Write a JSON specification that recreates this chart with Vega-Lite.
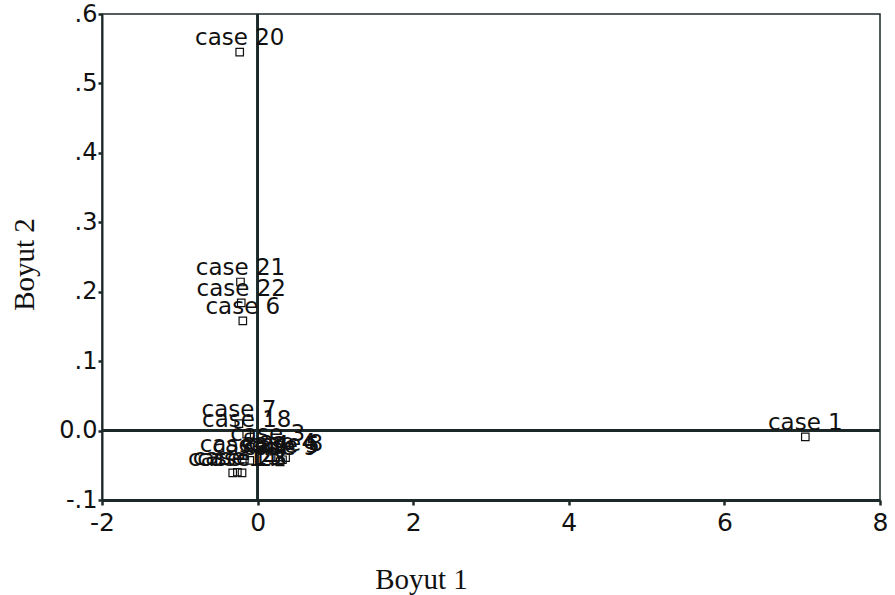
{
  "$schema": "https://vega.github.io/schema/vega-lite/v6.json",
  "width": 778,
  "height": 486,
  "autosize": "none",
  "padding": {"left": 102, "top": 14, "right": 15, "bottom": 95},
  "background": "white",
  "config": {
    "view": {"stroke": "#1c2828", "strokeWidth": 1.5},
    "axis": {"grid": false}
  },
  "data": {
    "values": [
      {"case": "case 1", "b1": 7.04, "b2": -0.009},
      {"case": "case 20", "b1": -0.23, "b2": 0.545},
      {"case": "case 21", "b1": -0.22, "b2": 0.214},
      {"case": "case 22", "b1": -0.21, "b2": 0.184},
      {"case": "case 6", "b1": -0.19, "b2": 0.158},
      {"case": "case 7", "b1": -0.24, "b2": 0.010},
      {"case": "case 18", "b1": -0.14, "b2": -0.005},
      {"case": "case 3", "b1": 0.13, "b2": -0.025},
      {"case": "case 4", "b1": 0.27, "b2": -0.038},
      {"case": "case 5", "b1": 0.32, "b2": -0.042},
      {"case": "case 8", "b1": 0.36, "b2": -0.039},
      {"case": "case 9", "b1": 0.29, "b2": -0.045},
      {"case": "case 24", "b1": -0.17, "b2": -0.041},
      {"case": "case 2", "b1": -0.10, "b2": -0.043},
      {"case": "case 14", "b1": -0.32, "b2": -0.061},
      {"case": "case 15", "b1": -0.26, "b2": -0.060},
      {"case": "case 23", "b1": -0.20, "b2": -0.061}
    ]
  },
  "layer": [
    {
      "mark": {"type": "rule", "color": "#1c2828", "strokeWidth": 1.5},
      "encoding": {"x": {"datum": 0, "type": "quantitative"}}
    },
    {
      "mark": {"type": "rule", "color": "#1c2828", "strokeWidth": 1.5},
      "encoding": {"y": {"datum": 0, "type": "quantitative"}}
    },
    {
      "mark": {"type": "point", "shape": "square", "size": 56, "filled": false, "stroke": "#111", "strokeWidth": 1.2, "opacity": 1},
      "encoding": {
        "x": {
          "field": "b1", "type": "quantitative",
          "scale": {"domain": [-2, 8], "nice": false, "zero": false},
          "axis": {
            "title": "Boyut 1",
            "values": [-2, 0, 2, 4, 6, 8],
            "labelExpr": "'' + datum.value",
            "labelFont": "DejaVu Sans", "labelFontSize": 25, "labelColor": "#111",
            "labelFlush": false, "labelOverlap": false, "labelBound": false, "labelPadding": 5,
            "tickSize": 5, "tickWidth": 2.5, "tickColor": "#1c2828",
            "domainColor": "#1c2828", "domainWidth": 3,
            "titleFont": "Liberation Serif", "titleFontSize": 29, "titleFontWeight": "normal", "titleColor": "#111",
            "titleX": 319, "titleY": 88, "titleBaseline": "alphabetic", "titleAlign": "center"
          }
        },
        "y": {
          "field": "b2", "type": "quantitative",
          "scale": {"domain": [-0.1, 0.6], "nice": false, "zero": false},
          "axis": {
            "title": "Boyut 2",
            "values": [-0.1, 0, 0.1, 0.2, 0.3, 0.4, 0.5, 0.6],
            "labelExpr": "datum.value < -0.05 ? '-.1' : (datum.value < 0.05 ? '0.0' : '.' + round(datum.value * 10))",
            "labelFont": "DejaVu Sans", "labelFontSize": 24, "labelColor": "#111",
            "labelFlush": false, "labelOverlap": false, "labelBound": false, "labelPadding": 1,
            "tickSize": 4, "tickWidth": 2.5, "tickColor": "#1c2828",
            "domainColor": "#1c2828", "domainWidth": 2,
            "titleFont": "Liberation Serif", "titleFontSize": 29, "titleFontWeight": "normal", "titleColor": "#111",
            "titleX": -69, "titleY": 250, "titleBaseline": "alphabetic", "titleAlign": "center", "titleAngle": 270
          }
        }
      }
    },
    {
      "mark": {"type": "text", "font": "DejaVu Sans", "fontSize": 23, "color": "#111", "dy": -14, "baseline": "middle", "align": "center"},
      "encoding": {
        "x": {"field": "b1", "type": "quantitative"},
        "y": {"field": "b2", "type": "quantitative"},
        "text": {"field": "case"}
      }
    }
  ]
}
